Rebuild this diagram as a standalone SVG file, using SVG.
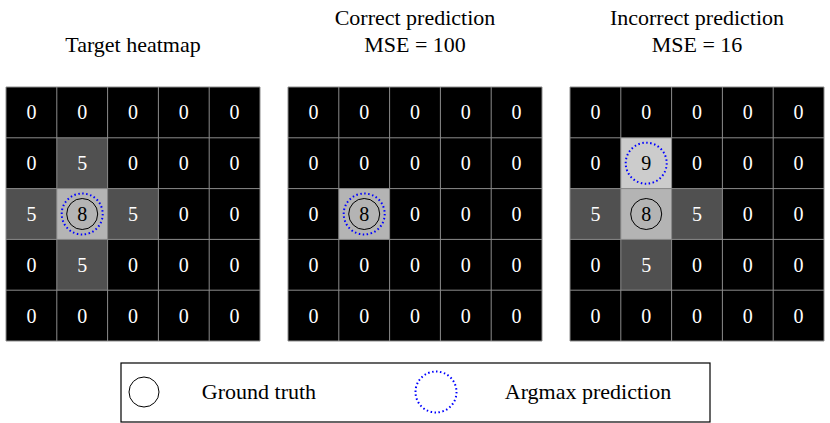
<svg xmlns="http://www.w3.org/2000/svg" width="830" height="423" viewBox="0 0 830 423">
<style>
text{font-family:"Liberation Serif","DejaVu Serif",serif;text-anchor:middle}
.t{font-size:22px;fill:#000}
.w{font-size:20px;fill:#fff}
.k{font-size:20px;fill:#000}
.gl{stroke:#8c8c8c;stroke-width:1;fill:none}
.gt{fill:none;stroke:#000;stroke-width:1}
.am{fill:none;stroke:#0000ff;stroke-width:2;stroke-dasharray:1.5 2.5}
</style>
<defs>
<path id="lines" class="gl" d="M0,0H254V254H0Z M50.8,0V254 M101.6,0V254 M152.4,0V254 M203.2,0V254 M0,50.8H254 M0,101.6H254 M0,152.4H254 M0,203.2H254"/>
</defs>
<text class="t" x="133" y="52">Target heatmap</text>
<text class="t" x="415" y="25">Correct prediction</text>
<text class="t" x="415" y="52">MSE = 100</text>
<text class="t" x="697" y="25">Incorrect prediction</text>
<text class="t" x="697" y="52">MSE = 16</text>
<g id="grid1">
<rect x="6" y="87" width="254" height="254" fill="#000"/>
<rect x="56.8" y="137.8" width="50.8" height="50.8" fill="#505050"/>
<rect x="6" y="188.6" width="50.8" height="50.8" fill="#505050"/>
<rect x="107.6" y="188.6" width="50.8" height="50.8" fill="#505050"/>
<rect x="56.8" y="239.4" width="50.8" height="50.8" fill="#505050"/>
<rect x="56.8" y="188.6" width="50.8" height="50.8" fill="#b4b4b4"/>
<use href="#lines" x="6" y="87"/>
<g class="w">
<text x="31.4" y="119.4">0</text><text x="82.2" y="119.4">0</text><text x="133" y="119.4">0</text><text x="183.8" y="119.4">0</text><text x="234.6" y="119.4">0</text>
<text x="31.4" y="170.2">0</text><text x="82.2" y="170.2">5</text><text x="133" y="170.2">0</text><text x="183.8" y="170.2">0</text><text x="234.6" y="170.2">0</text>
<text x="31.4" y="221">5</text><text x="133" y="221">5</text><text x="183.8" y="221">0</text><text x="234.6" y="221">0</text>
<text x="31.4" y="271.8">0</text><text x="82.2" y="271.8">5</text><text x="133" y="271.8">0</text><text x="183.8" y="271.8">0</text><text x="234.6" y="271.8">0</text>
<text x="31.4" y="322.6">0</text><text x="82.2" y="322.6">0</text><text x="133" y="322.6">0</text><text x="183.8" y="322.6">0</text><text x="234.6" y="322.6">0</text>
</g>
<text class="k" x="82.2" y="221">8</text>
<circle class="gt" cx="82.2" cy="214" r="15.5"/>
<circle class="am" cx="82.2" cy="214" r="20.5"/>
</g>
<g id="grid2">
<rect x="288" y="87" width="254" height="254" fill="#000"/>
<rect x="338.8" y="188.6" width="50.8" height="50.8" fill="#b4b4b4"/>
<use href="#lines" x="288" y="87"/>
<g class="w">
<text x="313.4" y="119.4">0</text><text x="364.2" y="119.4">0</text><text x="415" y="119.4">0</text><text x="465.8" y="119.4">0</text><text x="516.6" y="119.4">0</text>
<text x="313.4" y="170.2">0</text><text x="364.2" y="170.2">0</text><text x="415" y="170.2">0</text><text x="465.8" y="170.2">0</text><text x="516.6" y="170.2">0</text>
<text x="313.4" y="221">0</text><text x="415" y="221">0</text><text x="465.8" y="221">0</text><text x="516.6" y="221">0</text>
<text x="313.4" y="271.8">0</text><text x="364.2" y="271.8">0</text><text x="415" y="271.8">0</text><text x="465.8" y="271.8">0</text><text x="516.6" y="271.8">0</text>
<text x="313.4" y="322.6">0</text><text x="364.2" y="322.6">0</text><text x="415" y="322.6">0</text><text x="465.8" y="322.6">0</text><text x="516.6" y="322.6">0</text>
</g>
<text class="k" x="364.2" y="221">8</text>
<circle class="gt" cx="364.2" cy="214" r="15.5"/>
<circle class="am" cx="364.2" cy="214" r="20.5"/>
</g>
<g id="grid3">
<rect x="570" y="87" width="254" height="254" fill="#000"/>
<rect x="620.8" y="137.8" width="50.8" height="50.8" fill="#cccccc"/>
<rect x="570" y="188.6" width="50.8" height="50.8" fill="#505050"/>
<rect x="671.6" y="188.6" width="50.8" height="50.8" fill="#505050"/>
<rect x="620.8" y="239.4" width="50.8" height="50.8" fill="#505050"/>
<rect x="620.8" y="188.6" width="50.8" height="50.8" fill="#b4b4b4"/>
<use href="#lines" x="570" y="87"/>
<g class="w">
<text x="595.4" y="119.4">0</text><text x="646.2" y="119.4">0</text><text x="697" y="119.4">0</text><text x="747.8" y="119.4">0</text><text x="798.6" y="119.4">0</text>
<text x="595.4" y="170.2">0</text><text x="697" y="170.2">0</text><text x="747.8" y="170.2">0</text><text x="798.6" y="170.2">0</text>
<text x="595.4" y="221">5</text><text x="697" y="221">5</text><text x="747.8" y="221">0</text><text x="798.6" y="221">0</text>
<text x="595.4" y="271.8">0</text><text x="646.2" y="271.8">5</text><text x="697" y="271.8">0</text><text x="747.8" y="271.8">0</text><text x="798.6" y="271.8">0</text>
<text x="595.4" y="322.6">0</text><text x="646.2" y="322.6">0</text><text x="697" y="322.6">0</text><text x="747.8" y="322.6">0</text><text x="798.6" y="322.6">0</text>
</g>
<text class="k" x="646.2" y="170.2">9</text>
<text class="k" x="646.2" y="221">8</text>
<circle class="gt" cx="646.2" cy="214" r="15.5"/>
<circle class="am" cx="646.2" cy="163.2" r="20.5"/>
</g>
<g id="legend">
<rect x="121" y="363" width="589" height="59" fill="#fff" stroke="#000" stroke-width="1.2"/>
<circle class="gt" cx="144" cy="392" r="15"/>
<text class="t" x="259" y="399">Ground truth</text>
<circle class="am" cx="436" cy="392" r="20.5"/>
<text class="t" x="588" y="399">Argmax prediction</text>
</g>
</svg>
